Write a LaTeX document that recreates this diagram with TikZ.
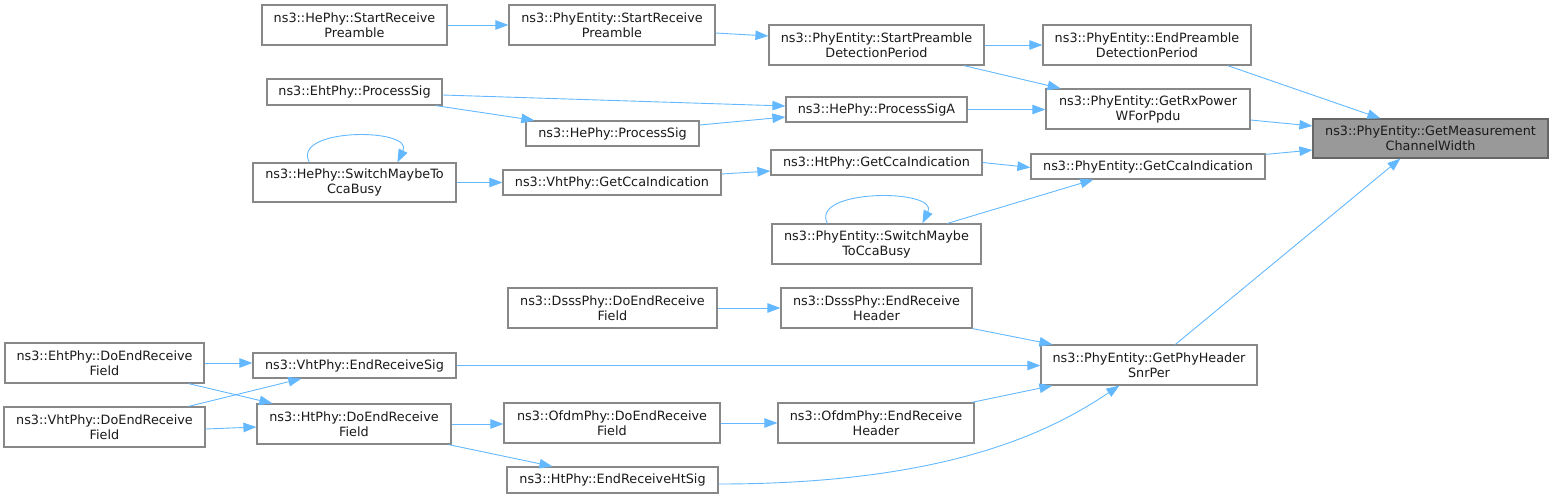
\documentclass[tikz,border=0pt]{standalone}
\usepackage{fontspec}
\setmainfont{DejaVu Sans}
\usetikzlibrary{arrows.meta,calc}
\definecolor{edgeblue}{HTML}{63B8FF}
\definecolor{boxgray}{HTML}{888888}
\definecolor{targetborder}{HTML}{666666}
\definecolor{targetfill}{HTML}{999999}
\definecolor{txt}{HTML}{1A1A1A}
\tikzset{
  box/.style={draw=boxgray, fill=white, line width=1.2pt, inner sep=0pt, align=center,
    text=txt, font=\fontsize{12.8}{15}\selectfont},
  edge/.style={draw=edgeblue, line width=0.9pt, -{Triangle[length=13pt,width=9.5pt]}, fill=none},
}
\newcommand\bx[7][]{\node[box,#1,minimum width={#5pt-#3pt},minimum height={#6pt-#4pt}] (#2) at ({(#3+#5)/2},{(#4+#6)/2}) {#7};}
\begin{document}
\begin{tikzpicture}[x=1pt,y=-1pt]
\useasboundingbox (0,0) rectangle (1553,498);
\bx{hesrp}{262}{5}{447}{45}{ns3::HePhy::StartReceive\\Preamble}
\bx{ehtps}{267}{79}{442}{105}{ns3::EhtPhy::ProcessSig}
\bx{hesw}{253}{163}{456}{202}{ns3::HePhy::SwitchMaybeTo\\CcaBusy}
\bx{pesrp}{509}{5}{715}{45}{ns3::PhyEntity::StartReceive\\Preamble}
\bx{spdp}{769}{25}{984}{65}{ns3::PhyEntity::StartPreamble\\DetectionPeriod}
\bx{hepsa}{786}{97}{967}{122}{ns3::HePhy::ProcessSigA}
\bx{heps}{526}{121}{699}{146}{ns3::HePhy::ProcessSig}
\bx{htcca}{771}{150}{982}{175}{ns3::HtPhy::GetCcaIndication}
\bx{vhtcca}{503}{170}{721}{195}{ns3::VhtPhy::GetCcaIndication}
\bx{pesw}{772}{224}{981}{264}{ns3::PhyEntity::SwitchMaybe\\ToCcaBusy}
\bx{epdp}{1043}{25}{1251}{65}{ns3::PhyEntity::EndPreamble\\DetectionPeriod}
\bx{rxp}{1046}{89}{1250}{129}{ns3::PhyEntity::GetRxPower\\WForPpdu}
\bx{pecca}{1031}{154}{1265}{179}{ns3::PhyEntity::GetCcaIndication}
\bx[fill=targetfill,draw=targetborder]{target}{1313}{119}{1548}{158}{ns3::PhyEntity::GetMeasurement\\ChannelWidth}
\bx{snr}{1041}{345}{1257}{385}{ns3::PhyEntity::GetPhyHeader\\SnrPer}
\bx{ehtderf}{5}{343}{204}{383}{ns3::EhtPhy::DoEndReceive\\Field}
\bx{vhters}{253}{353}{456}{378}{ns3::VhtPhy::EndReceiveSig}
\bx{vhtderf}{4}{407}{205}{447}{ns3::VhtPhy::DoEndReceive\\Field}
\bx{htderf}{257}{404}{451}{444}{ns3::HtPhy::DoEndReceive\\Field}
\bx{dsssderf}{508}{288}{717}{328}{ns3::DsssPhy::DoEndReceive\\Field}
\bx{dsssrh}{781}{288}{972}{328}{ns3::DsssPhy::EndReceive\\Header}
\bx{ofdmderf}{504}{403}{720}{443}{ns3::OfdmPhy::DoEndReceive\\Field}
\bx{ofdmrh}{778}{403}{974}{443}{ns3::OfdmPhy::EndReceive\\Header}
\bx{htrhs}{507}{467}{718}{493}{ns3::HtPhy::EndReceiveHtSig}

% edges
\draw[edge] (hesrp.east) -- (pesrp.west);
\draw[edge] ([yshift=-8pt]pesrp.east) -- ([yshift=9pt]spdp.west);
\draw[edge] (spdp.east) -- (epdp.west);
\draw[edge] (spdp) -- (rxp);
\draw[edge] ($(epdp.south east)+(-24,0)$) -- ($(target.north west)+(68,0)$);
\draw[edge] ([yshift=-11pt]rxp.east) -- ([yshift=12.5pt]target.west);
\draw[edge] ($(pecca.north east)+(0,1)$) -- ([yshift=-11.5pt]target.west);
\draw[edge] ($(snr.north west)+(135,0)$) -- ($(target.south west)+(88,0)$);
\draw[edge] ([yshift=-3pt]ehtps.east) -- ([yshift=3.5pt]hepsa.west);
\draw[edge] ($(ehtps.south east)+(-7,0)$) -- ($(heps.north west)+(9,0)$);
\draw[edge] ([yshift=8.5pt]heps.east) -- ([yshift=-7.5pt]hepsa.west);
\draw[edge] (hepsa.east) -- (hepsa.east -| rxp.west);
\draw[edge] ($(hesw.north west)+(57,0)$) .. controls ($(hesw.north west)+(38,-35)$) and ($(hesw.north west)+(162,-35)$) .. ($(hesw.north west)+(145,0)$);
\draw[edge] (hesw.east) -- (vhtcca.west);
\draw[edge] ([yshift=8.5pt]vhtcca.east) -- ([yshift=-8.5pt]htcca.west);
\draw[edge] (htcca.east) -- ([yshift=-1pt]pecca.west);
\draw[edge] ($(pesw.north west)+(56,0)$) .. controls ($(pesw.north west)+(38,-35)$) and ($(pesw.north west)+(168,-35)$) .. ($(pesw.north west)+(151,0)$);
\draw[edge] ($(pesw.north west)+(176,0)$) -- ($(pecca.south west)+(63,0)$);
\draw[edge] (dsssderf.east) -- (dsssrh.west);
\draw[edge] (dsssrh.south east) -- ($(snr.north west)+(12,0)$);
\draw[edge] (vhters.east) -- (vhters.east -| snr.west);
\draw[edge] ($(ofdmrh.north east)+(-3,0)$) -- ($(snr.south west)+(12,0)$);
\draw[edge] ([yshift=-4pt]htrhs.east) .. controls (960,484) and (1060,425) .. ($(snr.south west)+(79,0)$);
\draw[edge] (ofdmderf.east) -- (ofdmderf.east -| ofdmrh.west);
\draw[edge] (htderf.east) -- (htderf.east -| ofdmderf.west);
\draw[edge] ($(htderf.south east)+(-3,0)$) -- ($(htrhs.north west)+(46,0)$);
\draw[edge] (ehtderf.east) -- (ehtderf.east -| vhters.west);
\draw[edge] ($(ehtderf.south east)+(-16,0)$) -- ($(htderf.north west)+(16,0)$);
\draw[edge] ($(vhtderf.north east)+(-17,0)$) -- ($(vhters.south west)+(49,0)$);
\draw[edge] ([yshift=-2pt]vhtderf.east) -- (vhtderf.east -| htderf.west);
\end{tikzpicture}
\end{document}
